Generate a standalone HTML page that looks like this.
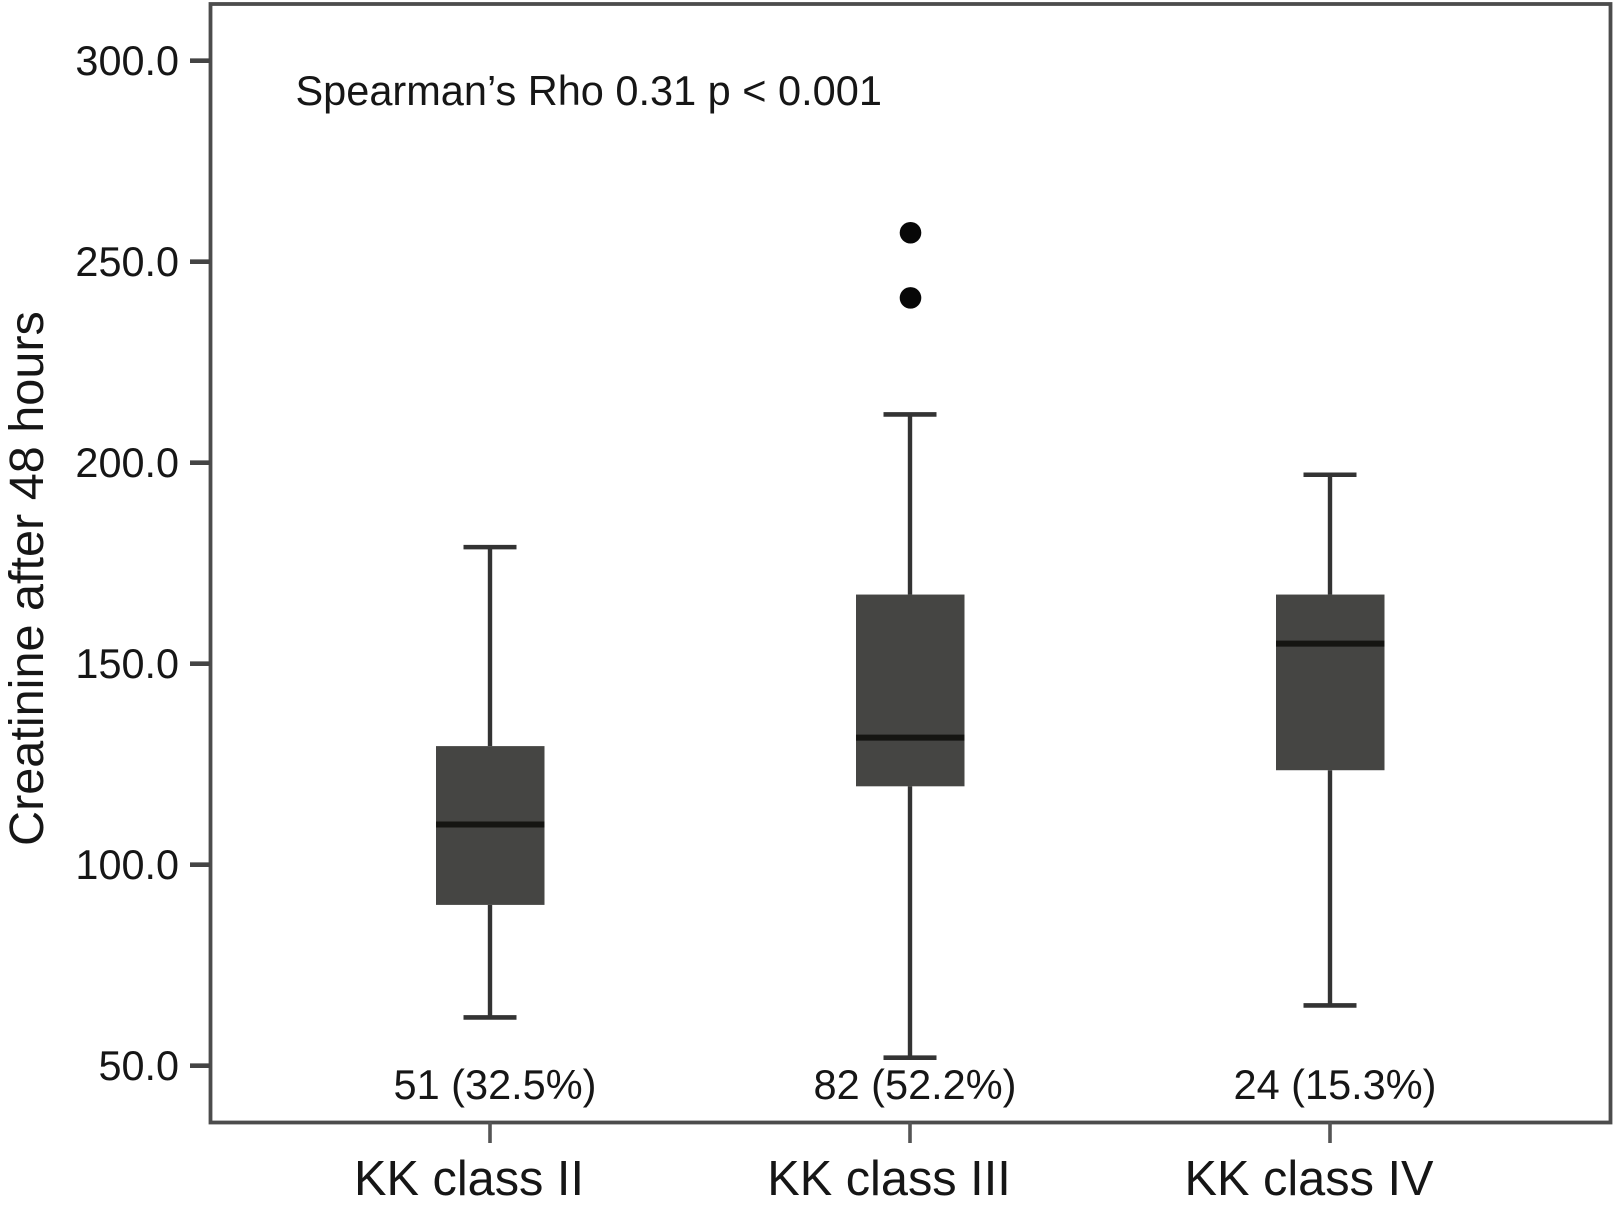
<!DOCTYPE html>
<html lang="en">
<head>
<meta charset="utf-8">
<title>Creatinine after 48 hours by KK class</title>
<style>
  html, body { margin: 0; padding: 0; background: #ffffff; }
  svg { display: block; }
  text { font-family: "Liberation Sans", Arial, sans-serif; fill: #161616; }
</style>
</head>
<body>
<svg id="chart" xmlns="http://www.w3.org/2000/svg" width="1616" height="1206" viewBox="0 0 1616 1206">
  <rect x="210.5" y="4" width="1400" height="1118.5" fill="none" stroke="#4c4c4c" stroke-width="3.8"/>
  <text x="295.5" y="105" font-size="41.5">Spearman’s Rho 0.31 p &lt; 0.001</text>
  <text transform="translate(43,846) rotate(-90)" font-size="48.6">Creatinine after 48 hours</text>
</svg>
<script>
const categories = ['KK class II', 'KK class III', 'KK class IV'];
const countLabels = ['51 (32.5%)', '82 (52.2%)', '24 (15.3%)'];
const whiskerLow = [62, 52, 65];
const q1 = [90, 119.5, 123.5];
const medians = [110, 131.6, 155];
const q3 = [129.5, 167.2, 167.2];
const whiskerHigh = [179, 212, 197];
const outlierCategory = [1, 1];
const outlierValues = [257.2, 241];
const yTicks = [50, 100, 150, 200, 250, 300];

const svg = document.getElementById('chart');
const NS = 'http://www.w3.org/2000/svg';

function yScale(v) { return 1065.7 - (v - 50) * 4.02; }
function xScale(i) { return 490 + i * 420; }

function add(tag, attrs, text) {
  const el = document.createElementNS(NS, tag);
  for (const k in attrs) el.setAttribute(k, attrs[k]);
  if (text !== undefined) el.textContent = text;
  svg.appendChild(el);
  return el;
}

yTicks.forEach(function (t) {
  const y = yScale(t);
  const tick = add('line', { x1: 190, x2: 210, y1: y, y2: y, stroke: '#444', 'stroke-width': 4.6 });
  
  
  const label = add('text', { x: 179, y: y + 14.5, 'text-anchor': 'end', 'font-size': 41.4 }, t.toFixed(1));
  
  
});

categories.forEach(function (name, i) {
  const x = xScale(i);
  const key = name.toLowerCase().replace(/ /g, '-');

  const tick = add('line', { x1: x, x2: x, y1: 1122, y2: 1143, stroke: '#555', 'stroke-width': 3.6 });
  
  

  const label = add('text', { x: x - 21, y: 1195, 'text-anchor': 'middle', 'font-size': 48.7 }, name);
  
  

  const count = add('text', { x: x + 5, y: 1099, 'text-anchor': 'middle', 'font-size': 41.5 }, countLabels[i]);
  
  

  const upper = add('line', { x1: x, x2: x, y1: yScale(q3[i]), y2: yScale(whiskerHigh[i]), stroke: '#333', 'stroke-width': 4.4 });
  
  

  const lower = add('line', { x1: x, x2: x, y1: yScale(q1[i]), y2: yScale(whiskerLow[i]), stroke: '#333', 'stroke-width': 4.4 });
  
  

  const capHigh = add('line', { x1: x - 26.5, x2: x + 26.5, y1: yScale(whiskerHigh[i]), y2: yScale(whiskerHigh[i]), stroke: '#333', 'stroke-width': 4.6 });
  
  

  const capLow = add('line', { x1: x - 26.5, x2: x + 26.5, y1: yScale(whiskerLow[i]), y2: yScale(whiskerLow[i]), stroke: '#333', 'stroke-width': 4.6 });
  
  

  const box = add('rect', { x: x - 54, width: 108.5, y: yScale(q3[i]), height: yScale(q1[i]) - yScale(q3[i]), fill: '#454543' });
  
  

  const median = add('line', { x1: x - 54, x2: x + 54.5, y1: yScale(medians[i]), y2: yScale(medians[i]), stroke: '#151512', 'stroke-width': 6 });
  
  
});

outlierValues.forEach(function (v, j) {
  const dot = add('circle', { cx: xScale(outlierCategory[j]) + 0.5, cy: yScale(v), r: 10.8, fill: '#070707' });
  
  
});
</script>
</body>
</html>
